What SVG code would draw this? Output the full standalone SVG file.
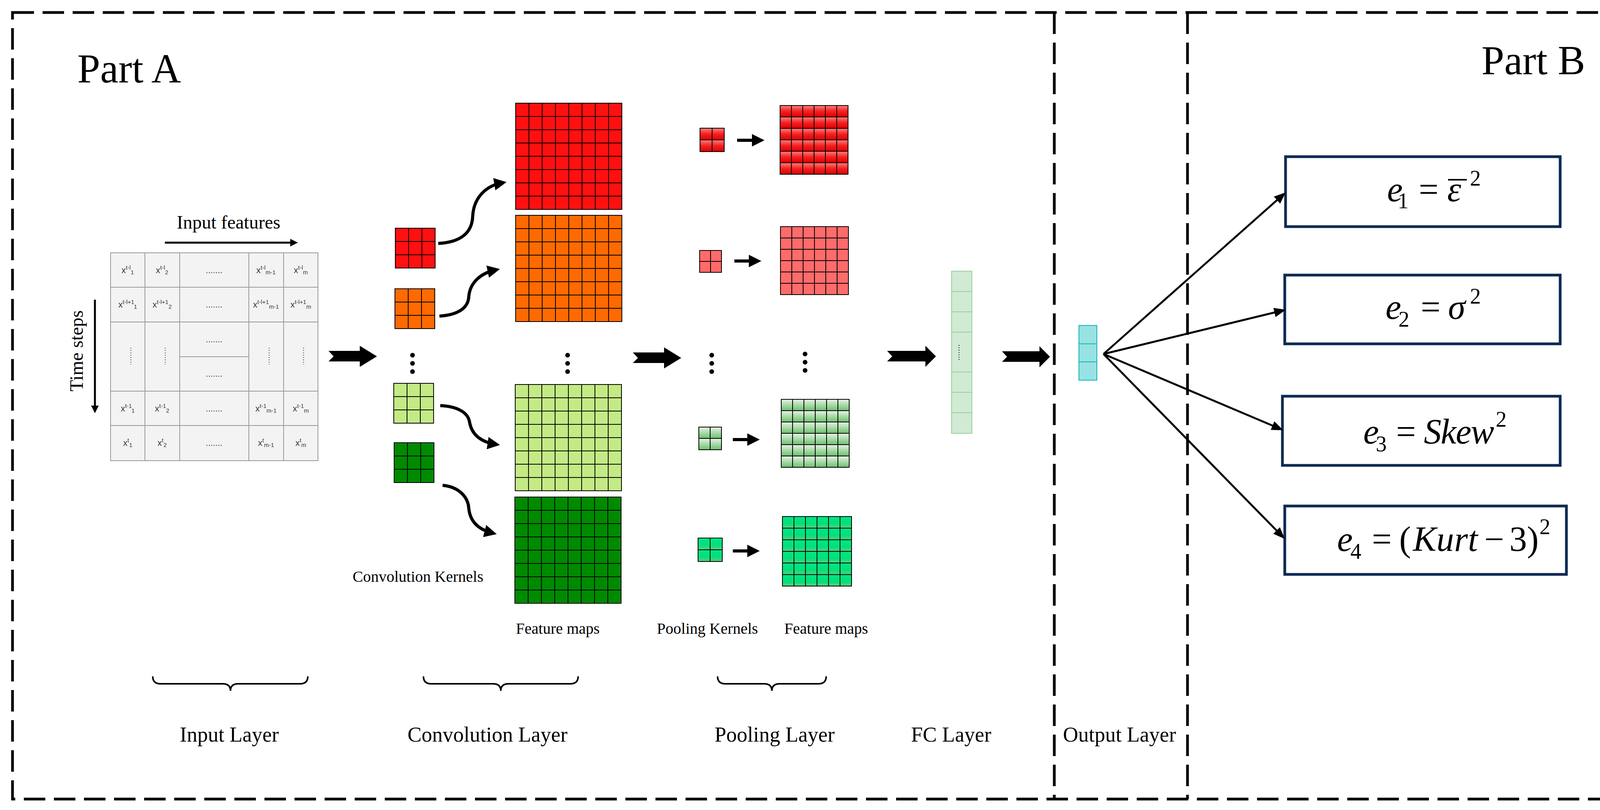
<svg xmlns="http://www.w3.org/2000/svg" width="4145" height="2073" viewBox="0 0 4145 2073">
<style>
.serif{font-family:"Liberation Serif","Times New Roman",serif;fill:#000}
.lbl{font-size:54px;text-anchor:middle}
.sm{font-size:40px;text-anchor:middle}
.cell{font-family:"Liberation Sans",Arial,sans-serif;font-size:22px;fill:#333;text-anchor:middle}
.sup{font-size:15px}
.dash{fill:none;stroke:#000;stroke-width:7;stroke-dasharray:55 22}
.grid{stroke:#000;stroke-width:2}
.tb{fill:#f3f3f3;stroke:#9a9a9a;stroke-width:2}
.eq{font-family:"Liberation Serif","Times New Roman",serif;font-size:90px;font-style:italic;fill:#000}
.up{font-style:normal}
.sb{font-style:normal;font-size:56px}
.box{fill:#fff;stroke:#0c2a52;stroke-width:7}
.con{fill:none;stroke:#000}
.brace{fill:none;stroke:#000;stroke-width:4}
</style>
<defs>
<marker id="mh" markerWidth="4" markerHeight="4" refX="2.5" refY="2" orient="auto"><path d="M0,0 L4,2 L0,4 Z" fill="#000"/></marker>
<marker id="mf" markerWidth="6" markerHeight="6" refX="4" refY="3" orient="auto"><path d="M0,0.6 L6,3 L0,5.4 Z" fill="#000"/></marker>
<marker id="ms" markerWidth="4" markerHeight="4" refX="2.5" refY="2" orient="auto"><path d="M0,0 L4,2 L0,4 Z" fill="#000"/></marker>
<linearGradient id="gR" x1="0" y1="0" x2="0" y2="1"><stop offset="0" stop-color="#ff8080"/><stop offset="0.5" stop-color="#f52020"/><stop offset="1" stop-color="#e00000"/></linearGradient>
<linearGradient id="gG" x1="0" y1="0" x2="0" y2="1"><stop offset="0" stop-color="#e6f4e6"/><stop offset="1" stop-color="#6cbf6c"/></linearGradient>
<linearGradient id="gT" x1="0" y1="0" x2="0" y2="1"><stop offset="0" stop-color="#00e884"/><stop offset="0.6" stop-color="#00e07c"/><stop offset="1" stop-color="#5ccf78"/></linearGradient>
<pattern id="pK1" patternUnits="userSpaceOnUse" x="1012" y="584" width="34" height="34"><rect width="34" height="34" fill="#ff1010" class="grid"/></pattern>
<pattern id="pK2" patternUnits="userSpaceOnUse" x="1011" y="739" width="34" height="34"><rect width="34" height="34" fill="#ff6a00" class="grid"/></pattern>
<pattern id="pK3" patternUnits="userSpaceOnUse" x="1008" y="981" width="34" height="34"><rect width="34" height="34" fill="#c3ea85" class="grid"/></pattern>
<pattern id="pK4" patternUnits="userSpaceOnUse" x="1009" y="1133" width="34" height="34"><rect width="34" height="34" fill="#008a00" class="grid"/></pattern>
<pattern id="pM1" patternUnits="userSpaceOnUse" x="1320" y="264" width="34" height="34"><rect width="34" height="34" fill="#ff1010" class="grid"/></pattern>
<pattern id="pM2" patternUnits="userSpaceOnUse" x="1320" y="551" width="34" height="34"><rect width="34" height="34" fill="#ff6a00" class="grid"/></pattern>
<pattern id="pM3" patternUnits="userSpaceOnUse" x="1319" y="984" width="34" height="34"><rect width="34" height="34" fill="#c3ea85" class="grid"/></pattern>
<pattern id="pM4" patternUnits="userSpaceOnUse" x="1318" y="1272" width="34" height="34"><rect width="34" height="34" fill="#008a00" class="grid"/></pattern>
<pattern id="pP1" patternUnits="userSpaceOnUse" x="1792" y="328" width="31" height="30"><rect width="31" height="30" fill="url(#gR)" class="grid"/></pattern>
<pattern id="pP2" patternUnits="userSpaceOnUse" x="1791" y="641" width="28" height="28"><rect width="28" height="28" fill="#ff6b6b" class="grid"/></pattern>
<pattern id="pP3" patternUnits="userSpaceOnUse" x="1789" y="1093" width="29" height="29"><rect width="29" height="29" fill="url(#gG)" class="grid"/></pattern>
<pattern id="pP4" patternUnits="userSpaceOnUse" x="1787" y="1377" width="31" height="30"><rect width="31" height="30" fill="url(#gT)" class="grid"/></pattern>
<pattern id="pF1" patternUnits="userSpaceOnUse" x="1997" y="270" width="29" height="29.3"><rect width="29" height="29.3" fill="url(#gR)" class="grid"/></pattern>
<pattern id="pF2" patternUnits="userSpaceOnUse" x="1998" y="580" width="29" height="29"><rect width="29" height="29" fill="#ff6b6b" class="grid"/></pattern>
<pattern id="pF3" patternUnits="userSpaceOnUse" x="2000" y="1022" width="29" height="29"><rect width="29" height="29" fill="url(#gG)" class="grid"/></pattern>
<pattern id="pF4" patternUnits="userSpaceOnUse" x="2003" y="1322" width="29.5" height="29.7"><rect width="29.5" height="29.7" fill="url(#gT)" class="grid"/></pattern>
</defs>
<rect width="4145" height="2073" fill="#fff"/>

<g id="frames">
<rect x="32" y="32" width="4079" height="2013" class="dash"/>
<line x1="2699" y1="32" x2="2699" y2="2045" class="dash"/>
<line x1="3040" y1="32" x2="3040" y2="2045" class="dash"/>
<text x="198" y="211" class="serif" font-size="105">Part A</text>
<text x="4058" y="190" class="serif" font-size="105" text-anchor="end">Part B</text>
</g>

<g id="input-table">
<rect x="283" y="647" width="531" height="532" class="tb"/>
<path d="M371,647V1179M460,647V1179M637,647V1179M726,647V1179M283,735H814M283,824H814M283,1001H814M283,1089H814M460,913H637" stroke="#9a9a9a" stroke-width="2"/>
<text class="cell" x="327" y="699">x<tspan class="sup" dy="-9">t-l</tspan><tspan class="sup" dy="12">1</tspan></text>
<text class="cell" x="415" y="699">x<tspan class="sup" dy="-9">t-l</tspan><tspan class="sup" dy="12">2</tspan></text>
<text class="cell" x="681" y="699">x<tspan class="sup" dy="-9">t-l</tspan><tspan class="sup" dy="12">m-1</tspan></text>
<text class="cell" x="770" y="699">x<tspan class="sup" dy="-9">t-l</tspan><tspan class="sup" dy="12">m</tspan></text>
<text class="cell" x="327" y="787">x<tspan class="sup" dy="-9">t-l+1</tspan><tspan class="sup" dy="12">1</tspan></text>
<text class="cell" x="415" y="787">x<tspan class="sup" dy="-9">t-l+1</tspan><tspan class="sup" dy="12">2</tspan></text>
<text class="cell" x="681" y="787">x<tspan class="sup" dy="-9">t-l+1</tspan><tspan class="sup" dy="12">m-1</tspan></text>
<text class="cell" x="770" y="787">x<tspan class="sup" dy="-9">t-l+1</tspan><tspan class="sup" dy="12">m</tspan></text>
<text class="cell" x="327" y="1053">x<tspan class="sup" dy="-9">t-1</tspan><tspan class="sup" dy="12">1</tspan></text>
<text class="cell" x="415" y="1053">x<tspan class="sup" dy="-9">t-1</tspan><tspan class="sup" dy="12">2</tspan></text>
<text class="cell" x="681" y="1053">x<tspan class="sup" dy="-9">t-1</tspan><tspan class="sup" dy="12">m-1</tspan></text>
<text class="cell" x="770" y="1053">x<tspan class="sup" dy="-9">t-1</tspan><tspan class="sup" dy="12">m</tspan></text>
<text class="cell" x="327" y="1141">x<tspan class="sup" dy="-9">t</tspan><tspan class="sup" dy="12">1</tspan></text>
<text class="cell" x="415" y="1141">x<tspan class="sup" dy="-9">t</tspan><tspan class="sup" dy="12">2</tspan></text>
<text class="cell" x="681" y="1141">x<tspan class="sup" dy="-9">t</tspan><tspan class="sup" dy="12">m-1</tspan></text>
<text class="cell" x="770" y="1141">x<tspan class="sup" dy="-9">t</tspan><tspan class="sup" dy="12">m</tspan></text>
<text class="cell" x="548" y="699">.......</text>
<text class="cell" x="548" y="787">.......</text>
<text class="cell" x="548" y="876">.......</text>
<text class="cell" x="548" y="964">.......</text>
<text class="cell" x="548" y="1053">.......</text>
<text class="cell" x="548" y="1141">.......</text>
<path d="M335,890V933M423,890V933M689,890V933M777,890V933" stroke="#7a3b6a" stroke-width="2.5" stroke-dasharray="2 4"/>
<text x="585" y="585" class="serif" font-size="48" text-anchor="middle">Input features</text>
<text transform="translate(212,898) rotate(-90)" class="serif" font-size="48" text-anchor="middle">Time steps</text>
</g>

<g id="conv-kernels">
<rect x="1012" y="584" width="102" height="102" fill="url(#pK1)" class="grid"/>
<rect x="1011" y="739" width="102" height="102" fill="url(#pK2)" class="grid"/>
<rect x="1008" y="981" width="102" height="102" fill="url(#pK3)" class="grid"/>
<rect x="1009" y="1133" width="102" height="102" fill="url(#pK4)" class="grid"/>
<circle cx="1056" cy="909" r="6"/><circle cx="1056" cy="930" r="6"/><circle cx="1056" cy="951" r="6"/>
<text x="1070" y="1489" class="serif sm">Convolution Kernels</text>
</g>

<g id="feature-maps">
<rect x="1320" y="264" width="272" height="272" fill="url(#pM1)" class="grid"/>
<rect x="1320" y="551" width="272" height="272" fill="url(#pM2)" class="grid"/>
<rect x="1319" y="984" width="272" height="272" fill="url(#pM3)" class="grid"/>
<rect x="1318" y="1272" width="272" height="272" fill="url(#pM4)" class="grid"/>
<circle cx="1453" cy="909" r="6"/><circle cx="1453" cy="930" r="6"/><circle cx="1453" cy="951" r="6"/>
<text x="1428" y="1622" class="serif sm">Feature maps</text>
</g>

<g id="pooling-kernels">
<rect x="1792" y="328" width="62" height="60" fill="url(#pP1)" class="grid"/>
<rect x="1791" y="641" width="56" height="56" fill="url(#pP2)" class="grid"/>
<rect x="1789" y="1093" width="58" height="58" fill="url(#pP3)" class="grid"/>
<rect x="1787" y="1377" width="62" height="60" fill="url(#pP4)" class="grid"/>
<circle cx="1822" cy="909" r="6"/><circle cx="1822" cy="930" r="6"/><circle cx="1822" cy="951" r="6"/>
<text x="1811" y="1622" class="serif sm">Pooling Kernels</text>
</g>

<g id="pooled-maps">
<rect x="1997" y="270" width="174" height="176" fill="url(#pF1)" class="grid"/>
<rect x="1998" y="580" width="174" height="174" fill="url(#pF2)" class="grid"/>
<rect x="2000" y="1022" width="174" height="174" fill="url(#pF3)" class="grid"/>
<rect x="2003" y="1322" width="177" height="178" fill="url(#pF4)" class="grid"/>
<circle cx="2061" cy="906" r="6"/><circle cx="2061" cy="927" r="6"/><circle cx="2061" cy="948" r="6"/>
<text x="2115" y="1622" class="serif sm">Feature maps</text>
</g>

<g id="fc-layer">
<rect x="2436" y="694" width="52" height="415" fill="#d0ead4" stroke="#97d09b" stroke-width="2"/>
<path d="M2436,746H2488M2436,798H2488M2436,850H2488M2436,952H2488M2436,1004H2488M2436,1056H2488" stroke="#97d09b" stroke-width="2"/>
<path d="M2455,883V921" stroke="#000" stroke-width="2" stroke-dasharray="2 4"/>
</g>

<g id="output-layer">
<rect x="2762" y="833" width="46" height="140" fill="#97e3e3" stroke="#14b0b8" stroke-width="2"/>
<path d="M2762,880H2808M2762,926H2808" stroke="#14b0b8" stroke-width="2"/>
</g>

<g id="e1"><rect x="3291" y="401" width="703" height="179" class="box"/>
<text y="515" class="eq"><tspan x="3551">e</tspan><tspan class="sb" x="3578" y="533">1</tspan><tspan class="up" x="3632" y="515">=</tspan><tspan x="3705">ε</tspan><tspan class="sb" x="3763" y="475">2</tspan></text>
<line x1="3707" y1="460" x2="3755" y2="460" stroke="#000" stroke-width="4"/></g>
<g id="e2"><rect x="3289" y="704" width="705" height="176" class="box"/>
<text y="816" class="eq"><tspan x="3547">e</tspan><tspan class="sb" x="3580" y="836">2</tspan><tspan class="up" x="3637" y="816">=</tspan><tspan x="3707">σ</tspan><tspan class="sb" x="3763" y="777">2</tspan></text></g>
<g id="e3"><rect x="3283" y="1014" width="711" height="177" class="box"/>
<text y="1135" class="eq"><tspan x="3490">e</tspan><tspan class="sb" x="3522" y="1155">3</tspan><tspan class="up" x="3574" y="1135">=</tspan><tspan x="3645" textLength="180">Skew</tspan><tspan class="sb" x="3829" y="1092">2</tspan></text></g>
<g id="e4"><rect x="3289" y="1295" width="721" height="175" class="box"/>
<text y="1410" class="eq"><tspan x="3423">e</tspan><tspan class="sb" x="3457" y="1430">4</tspan><tspan class="up" x="3512" y="1410">=</tspan><tspan class="up" x="3582">(</tspan><tspan x="3617" textLength="166">Kurt</tspan><tspan class="up" x="3800">−</tspan><tspan class="up" x="3864">3)</tspan><tspan class="sb" x="3941" y="1367">2</tspan></text></g>

<g id="layer-labels">
<path class="brace" d="M391,1731Q391,1750 411,1750H570Q590,1750 590,1768Q590,1750 610,1750H768Q788,1750 788,1731"/>
<path class="brace" d="M1084,1731Q1084,1750 1104,1750H1262Q1282,1750 1282,1768Q1282,1750 1302,1750H1460Q1480,1750 1480,1731"/>
<path class="brace" d="M1837,1731Q1837,1750 1857,1750H1956Q1976,1750 1976,1768Q1976,1750 1996,1750H2095Q2115,1750 2115,1731"/>
<text x="587" y="1898" class="serif lbl">Input Layer</text>
<text x="1248" y="1898" class="serif lbl">Convolution Layer</text>
<text x="1983" y="1898" class="serif lbl">Pooling Layer</text>
<text x="2435" y="1898" class="serif lbl">FC Layer</text>
<text x="2866" y="1898" class="serif lbl">Output Layer</text>
</g>

<g id="connectors">
<line x1="422" y1="621" x2="755" y2="621" class="con" stroke-width="5" marker-end="url(#ms)"/>
<line x1="243" y1="767" x2="243" y2="1050" class="con" stroke-width="5" marker-end="url(#ms)"/>
<path class="con" stroke-width="8" marker-end="url(#mh)" d="M1122,623C1180,620 1208,595 1210,555C1212,505 1245,475 1285,468"/>
<path class="con" stroke-width="8" marker-end="url(#mh)" d="M1125,809C1170,806 1198,790 1200,760C1203,720 1235,698 1268,691"/>
<path class="con" stroke-width="8" marker-end="url(#mh)" d="M1127,1038C1170,1040 1198,1055 1202,1080C1208,1115 1235,1132 1268,1137"/>
<path class="con" stroke-width="8" marker-end="url(#mh)" d="M1133,1242C1175,1246 1198,1272 1200,1300C1203,1335 1225,1355 1260,1364"/>
<path d="M841,898H921V885L965,912L921,939V925H841L854,912Z"/>
<path d="M1620,902H1700V889L1744,916L1700,943V929H1620L1633,916Z"/>
<path d="M2271,898H2369V885L2396,912L2369,939V925H2271L2284,912Z"/>
<path d="M2565,899H2661V886L2688,913L2661,940V926H2565L2578,913Z"/>
<line x1="1887" y1="359" x2="1945" y2="359" class="con" stroke-width="8" marker-end="url(#mh)"/>
<line x1="1880" y1="668" x2="1937" y2="668" class="con" stroke-width="8" marker-end="url(#mh)"/>
<line x1="1876" y1="1125" x2="1933" y2="1125" class="con" stroke-width="8" marker-end="url(#mh)"/>
<line x1="1876" y1="1410" x2="1933" y2="1410" class="con" stroke-width="8" marker-end="url(#mh)"/>
<line x1="2825" y1="906" x2="3284" y2="499" class="con" stroke-width="5" marker-end="url(#mf)"/>
<line x1="2825" y1="906" x2="3282" y2="795" class="con" stroke-width="5" marker-end="url(#mf)"/>
<line x1="2825" y1="906" x2="3276" y2="1097" class="con" stroke-width="5" marker-end="url(#mf)"/>
<line x1="2825" y1="906" x2="3282" y2="1372" class="con" stroke-width="5" marker-end="url(#mf)"/>
</g>
</svg>
